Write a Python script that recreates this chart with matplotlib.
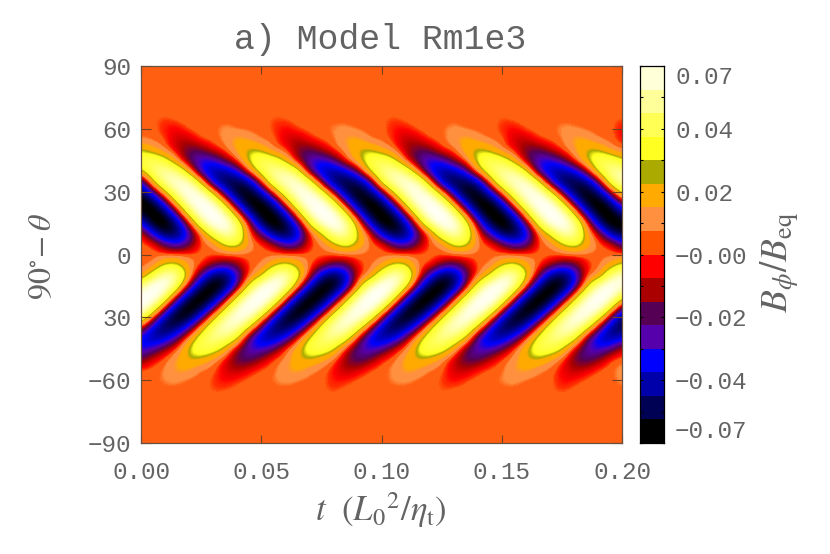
import numpy as np
import matplotlib
matplotlib.use('Agg')
import matplotlib.pyplot as plt
from matplotlib.colors import LinearSegmentedColormap, ListedColormap

# B_phi, in units of 1e-3, one list per latitude
# columns are t = 0.000, 0.005, ... 0.200
t_values = [i * 0.005 for i in range(41)]
lat_values = [90 - i * 5 for i in range(37)]

blank = [0] * 41
n65 = [0,-1,-2,0,0,0,0,0,0,0,0,-2,-1,0,0,0,0,0,0,0,-1,-2,0,0,0,0,0,0,0,0,-2,0,0,0,0,0,0,0,0,-1,-1]
n60 = [0,0,-4,-5,0,0,0,4,0,0,0,-2,-5,-1,0,0,3,3,0,0,0,-4,-4,0,0,1,4,0,0,0,-3,-5,0,0,0,4,2,0,0,0,-5]
n55 = [1,0,-1,-9,-8,0,0,3,12,6,0,0,-7,-10,-3,0,0,10,10,0,0,-3,-10,-7,0,0,6,12,4,0,0,-8,-9,-1,0,1,11,8,0,0,-5]
n50 = [20,10,0,-8,-17,-15,-4,0,10,20,16,0,-2,-14,-17,-9,0,3,18,19,8,0,-10,-17,-14,-1,0,13,21,14,0,-5,-15,-17,-7,0,6,19,18,4,0]
n45 = [30,38,27,3,-20,-30,-28,-13,0,23,37,33,14,-12,-27,-30,-20,0,13,32,37,24,-5,-22,-31,-26,-10,2,26,38,31,10,-15,-29,-30,-18,0,18,35,36,19]
n40 = [19,41,50,41,8,-34,-45,-43,-28,4,33,48,47,30,-23,-42,-45,-35,-14,23,44,50,38,-1,-36,-46,-41,-24,12,37,49,45,20,-29,-43,-45,-33,-9,28,46,49]
n35 = [-33,21,50,59,52,12,-40,-56,-56,-42,-1,43,57,57,33,-19,-53,-58,-49,-24,31,53,59,50,3,-47,-57,-54,-39,8,46,58,55,24,-28,-55,-57,-46,-15,37,55]
n30 = [-55,-23,18,51,65,51,12,-32,-62,-63,-38,1,39,62,60,30,-15,-53,-66,-51,-17,25,55,65,45,4,-39,-65,-60,-32,8,45,64,57,23,-22,-57,-65,-46,-9,31]
n25 = [-70,-58,-22,22,58,70,52,10,-37,-67,-66,-39,4,46,69,63,29,-19,-57,-70,-53,-14,30,62,69,45,1,-43,-69,-63,-32,12,51,70,59,21,-26,-62,-69,-47,-6]
n20 = [-58,-71,-54,-15,30,63,71,47,2,-44,-69,-64,-33,12,53,72,60,22,-26,-62,-70,-48,-7,37,68,70,40,-6,-50,-71,-60,-26,19,57,72,55,14,-34,-66,-68,-42]
n15 = [-29,-64,-70,-47,-5,38,66,67,37,-9,-52,-71,-58,-23,22,57,70,52,10,-36,-67,-67,-40,3,45,68,64,29,-18,-57,-71,-54,-16,29,62,69,46,2,-43,-70,-64]
n10 = [0,-32,-57,-55,-27,0,31,55,41,0,-17,-50,-60,-41,-4,14,49,51,18,0,-38,-59,-52,-21,0,38,55,35,0,-24,-54,-58,-36,0,21,52,48,10,-7,-44,-60]
n05 = [0,0,-19,-30,-18,0,0,23,28,4,0,-8,-28,-25,-2,0,14,30,16,0,0,-22,-29,-13,0,1,26,25,0,0,-13,-29,-23,0,0,18,30,12,0,-2,-25]
equator = [0] * 41
s05 = [0,0,21,23,5,0,-13,-20,-13,0,0,14,25,14,0,-7,-19,-17,-3,0,5,23,21,0,0,-15,-20,-10,0,0,17,25,10,0,-9,-20,-16,-3,0,9,24]
s10 = [0,30,56,49,11,-21,-52,-55,-28,0,12,49,56,29,-4,-42,-58,-42,-4,0,36,58,44,3,-28,-55,-52,-21,0,19,53,54,22,-12,-47,-57,-37,0,1,42,58]
s15 = [41,67,66,34,-12,-53,-70,-57,-20,24,59,70,50,8,-38,-67,-65,-37,6,47,69,61,27,-21,-59,-70,-51,-12,31,63,69,44,0,-45,-69,-62,-30,14,52,70,57]
s20 = [66,70,40,-8,-52,-71,-59,-24,20,57,72,56,13,-36,-67,-66,-40,1,44,70,68,33,-17,-58,-71,-54,-16,27,61,72,50,4,-43,-70,-64,-34,9,50,71,62,24]
s25 = [69,44,-3,-49,-70,-59,-27,15,52,70,58,18,-32,-66,-66,-42,-2,38,65,68,37,-12,-55,-70,-55,-20,22,56,70,53,9,-39,-68,-64,-36,5,44,67,65,29,-21]
s30 = [42,-1,-45,-66,-58,-27,13,47,64,55,18,-29,-61,-64,-41,-3,35,60,63,36,-10,-51,-66,-52,-20,19,51,65,50,10,-36,-64,-61,-35,3,40,63,60,29,-18,-56]
s35 = [-3,-39,-58,-50,-24,10,41,57,50,17,-24,-53,-56,-37,-4,30,53,57,32,-8,-44,-58,-46,-18,16,45,58,46,10,-31,-56,-54,-32,2,35,55,55,27,-15,-48,-57]
s40 = [-34,-46,-40,-19,6,32,45,41,22,-25,-43,-45,-29,-3,22,41,45,31,-8,-37,-46,-37,-14,11,35,46,38,15,-29,-44,-43,-25,0,27,43,44,27,-17,-40,-46,-34]
s45 = [-30,-25,-10,0,21,35,31,13,-13,-27,-29,-18,0,12,31,35,22,-6,-23,-30,-23,-6,2,24,36,30,8,-17,-28,-28,-15,0,16,33,34,19,-9,-25,-30,-21,-4]
s50 = [-17,-4,0,8,18,15,4,-5,-18,-20,-10,0,2,15,18,9,0,-13,-21,-15,-1,0,10,18,14,2,-8,-19,-19,-7,0,4,16,18,7,-2,-16,-21,-13,0,0]
s55 = [0,0,2,10,8,0,0,-7,-10,-4,0,0,7,11,3,0,-4,-10,-7,0,0,3,11,7,0,0,-8,-9,-2,0,0,8,10,2,0,-5,-10,-6,0,0,5]
s60 = [0,0,3,3,0,0,-2,-5,-2,0,0,2,4,1,0,0,-4,-3,0,0,0,3,3,0,0,-2,-5,-1,0,0,3,4,0,0,0,-5,-3,0,0,0,4]
s65 = [0,0,0,0,0,0,-2,-1,0,0,0,0,0,0,0,-1,-2,0,0,0,0,0,0,0,0,-2,0,0,0,0,0,0,0,0,-1,-2,0,0,0,0,0]

# colour bar bands, bottom to top
bar_colors = ['#000000', '#000055', '#0000aa', '#0000ff', '#5500aa', '#550055', '#aa0000', '#ff0000',
              '#ff5500', '#ff9040', '#ffaa00', '#aaaa00', '#ffff22', '#ffff55', '#ffff99', '#ffffd8']
bar_levels = np.linspace(-0.07, 0.07, 17)
bar_ticks = [i * 0.07 / 6 for i in range(-6, 7)]
bar_labels = ['\u22120.07', '', '\u22120.04', '', '\u22120.02', '', '\u22120.00', '', '0.02', '', '0.04', '', '0.07']

lat_ticks = [90, 60, 30, 0, -30, -60, -90]
lat_labels = ['90', '60', '30', '0', '30', '\u221260', '\u221290']
t_ticks = [0.0, 0.05, 0.10, 0.15, 0.20]
t_labels = ['0.00', '0.05', '0.10', '0.15', '0.20']

plt.rcParams['mathtext.fontset'] = 'stix'
gray = '#636363'
mono = 'Liberation Mono'

# smooth version of the bands used for the field itself
nodes = [(-70, '#000000'), (-62, '#000000'), (-52, '#000055'), (-42, '#0000aa'), (-32, '#0000ff'),
         (-24, '#5500aa'), (-17, '#550055'), (-10, '#aa0000'), (-4, '#ff0000'), (-2, '#ff3300'),
         (-1.2, '#ff5f10'), (1.2, '#ff5f10'), (2.5, '#ff9040'), (6, '#ff9040'), (9, '#ffaa00'),
         (15, '#ffaa00'), (18, '#aaaa00'), (22, '#ffff22'), (35, '#ffff55'), (46, '#ffff99'),
         (56, '#ffffd8'), (66, '#ffffff'), (70, '#ffffff')]
field_cmap = LinearSegmentedColormap.from_list(
    'field', [((v + 70) / 140, c) for v, c in nodes], N=512)

rows = [blank] * 5 + [n65, n60, n55, n50, n45, n40, n35, n30, n25, n20, n15, n10, n05, equator,
                      s05, s10, s15, s20, s25, s30, s35, s40, s45, s50, s55, s60, s65] + [blank] * 5
field = np.array(rows) * 1e-3

fig = plt.figure(figsize=(8.3, 5.54), dpi=100)
W, H = 830.0, 554.0
ax = fig.add_axes([141 / W, 1 - 443 / H, 481 / W, 377 / H])
dt = (t_values[1] - t_values[0]) / 2
dlat = (lat_values[0] - lat_values[1]) / 2
ax.imshow(field, cmap=field_cmap, vmin=-0.07, vmax=0.07, aspect='auto', origin='upper',
          extent=[t_values[0] - dt, t_values[-1] + dt, lat_values[-1] - dlat, lat_values[0] + dlat],
          interpolation='bicubic', interpolation_stage='data')
ax.set_xlim(0, 0.2)
ax.set_ylim(-90, 90)
ax.set_xticks(t_ticks)
ax.set_xticklabels(t_labels)
ax.set_yticks(lat_ticks)
ax.set_yticklabels(lat_labels)
ax.tick_params(axis='x', direction='in', top=True, length=5.5, width=0.8, color='#704020', pad=13,
               labelsize=17.5, labelcolor=gray)
ax.tick_params(axis='y', direction='in', right=True, length=7, width=0.8, color='#704020', pad=7,
               labelsize=17.5, labelcolor=gray)
for lab in ax.get_xticklabels() + ax.get_yticklabels():
    lab.set_family(mono)
for sp in ax.spines.values():
    sp.set_color('#6a5040')
    sp.set_linewidth(0.9)

cax = fig.add_axes([640 / W, 1 - 443 / H, 24 / W, 377 / H])
cax.pcolormesh([0, 1], bar_levels, np.arange(16).reshape(16, 1), cmap=ListedColormap(bar_colors),
               vmin=0, vmax=16)
cax.set_xticks([])
cax.yaxis.tick_right()
cax.set_yticks(bar_ticks)
cax.set_yticklabels(bar_labels)
cax.tick_params(axis='y', direction='in', left=True, right=True, length=2.5, width=0.8, color='black',
                pad=8, labelsize=17.5, labelcolor=gray)
for lab in cax.get_yticklabels():
    lab.set_family(mono)
    lab.set_ha('left')
cax.get_yticklabels()[0].set_va('bottom')
cax.get_yticklabels()[-1].set_va('top')
for sp in cax.spines.values():
    sp.set_color('black')
    sp.set_linewidth(0.9)

fig.text(380 / W, 1 - 39 / H, 'a) Model Rm1e3', family=mono, fontsize=25, color=gray, ha='center', va='center')
fig.text(381 / W, 1 - 510 / H, r'$t\ \ (L_0{}^2/\eta_{\rm t})$', fontsize=25, color=gray, ha='center', va='center')
fig.text(43 / W, 1 - 257 / H, r'$90^{\circ}\!-\theta$', fontsize=23, color=gray, rotation=90, ha='center', va='center')
fig.text(780 / W, 1 - 262 / H, r'$B_{\phi}/B_{\rm eq}$', fontsize=27, color=gray, rotation=90, ha='center', va='center')

fig.savefig('out.png', dpi=100)
plt.close(fig)
